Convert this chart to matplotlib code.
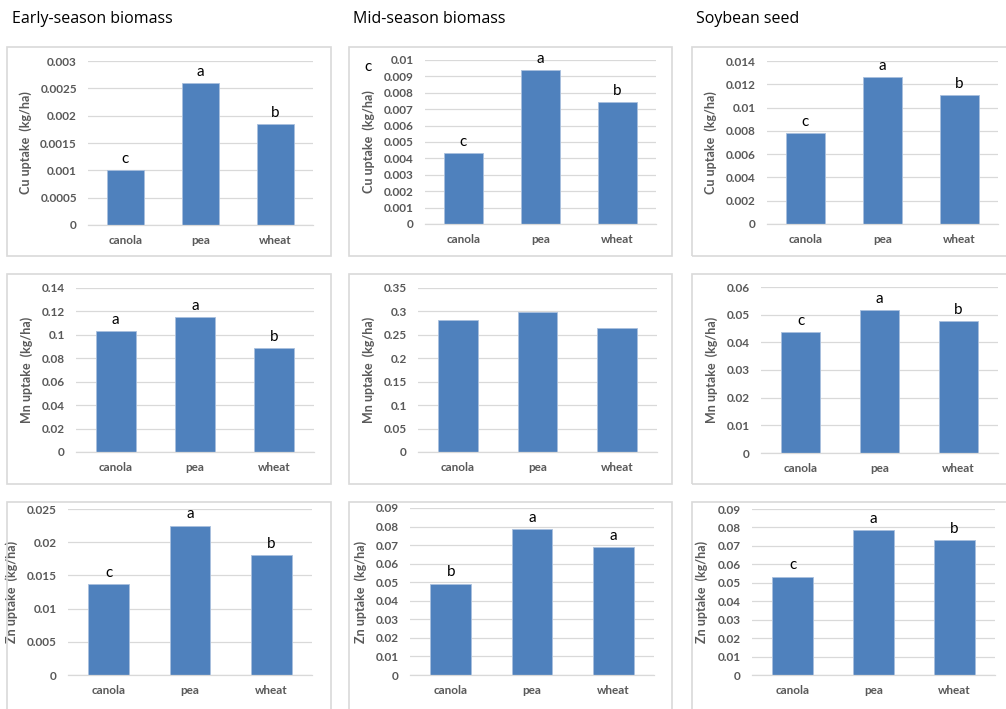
import numpy as np
import matplotlib
matplotlib.use('Agg')
import matplotlib.pyplot as plt
from matplotlib.patches import Rectangle

W, H = 1006, 709

crops = ['canola', 'pea', 'wheat']
stages = ['Early-season biomass', 'Mid-season biomass', 'Soybean seed']
nutrients = ['Cu', 'Mn', 'Zn']

# uptake (kg/ha) per crop, one list per nutrient x stage
cu_early = [0.00101, 0.00259, 0.00184]
cu_mid = [0.00431, 0.00937, 0.00742]
cu_seed = [0.00783, 0.01263, 0.01109]
mn_early = [0.1032, 0.1149, 0.0884]
mn_mid = [0.2808, 0.2987, 0.2637]
mn_seed = [0.0437, 0.0516, 0.0477]
zn_early = [0.01375, 0.02249, 0.01812]
zn_mid = [0.0493, 0.0785, 0.0688]
zn_seed = [0.0534, 0.0784, 0.0730]

# mean separation letters
cu_early_lt = ['c', 'a', 'b']
cu_mid_lt = ['c', 'a', 'b']
cu_seed_lt = ['c', 'a', 'b']
mn_early_lt = ['a', 'a', 'b']
mn_mid_lt = ['', '', '']
mn_seed_lt = ['c', 'a', 'b']
zn_early_lt = ['c', 'a', 'b']
zn_mid_lt = ['b', 'a', 'a']
zn_seed_lt = ['c', 'a', 'b']

# axis maximum and tick step for each panel
y_max = [[0.003, 0.01, 0.014], [0.14, 0.35, 0.06], [0.025, 0.09, 0.09]]
y_step = [[0.0005, 0.001, 0.002], [0.02, 0.05, 0.01], [0.005, 0.01, 0.01]]

valores = [[cu_early, cu_mid, cu_seed],
           [mn_early, mn_mid, mn_seed],
           [zn_early, zn_mid, zn_seed]]
letras = [[cu_early_lt, cu_mid_lt, cu_seed_lt],
          [mn_early_lt, mn_mid_lt, mn_seed_lt],
          [zn_early_lt, zn_mid_lt, zn_seed_lt]]

# plot areas in pixels: left, right, top, bottom
areas = [[(88, 313, 61, 225), (425, 656, 60, 224), (767, 998, 61, 224)],
         [(76, 314, 288, 452), (418, 657, 288, 452), (761, 998, 287, 453)],
         [(68, 312, 509, 675), (410, 654, 508, 675), (752, 995, 509, 675)]]
label_x = [[32, 375, 717], [33, 375, 718], [18, 367, 708]]

# chart frames in pixels: x0, x1 per column, y0, y1 per row
frame_x = [(7, 331), (349, 672), (692, 1012)]
frame_y = [(47, 256), (274, 484), (502, 715)]

BLUE = '#4f81bd'
GRID = '#d9d9d9'
GREY = '#595959'
TICK_FONT = 'Lato'


def fx(px):
    return px / W


def fy(py):
    return 1 - py / H


fig = plt.figure(figsize=(W / 100, H / 100), dpi=100)
fig.patch.set_facecolor('white')

for (x0, x1) in frame_x:
    for (y0, y1) in frame_y:
        fig.add_artist(Rectangle((fx(x0), fy(y1)), fx(x1 - x0), (y1 - y0) / H,
                                 transform=fig.transFigure, fill=False,
                                 ec=GRID, lw=1.2))

for j, (titulo, tx) in enumerate(zip(stages, [12, 353, 696])):
    fig.text(fx(tx), fy(19), titulo, fontsize=11.5, family='Open Sans',
             ha='left', va='center', color='black')

for i in range(3):
    for j in range(3):
        l, r, t, b = areas[i][j]
        ax = fig.add_axes([fx(l), fy(b), fx(r - l), (b - t) / H])
        x = np.arange(len(crops))
        barras = ax.bar(x, valores[i][j], width=0.5, color=BLUE,
                        edgecolor='#a9c0de', linewidth=0.6, zorder=3)
        for rect, lt in zip(barras, letras[i][j]):
            if lt:
                ax.annotate(lt, (rect.get_x() + rect.get_width() / 2, rect.get_height()),
                            xytext=(0, 3), textcoords='offset points',
                            ha='center', va='bottom', fontsize=11,
                            family='Lato', color='black')
        ax.set_xlim(-0.5, 2.5)
        ax.set_ylim(0, y_max[i][j])
        ticks = np.round(np.arange(0, y_max[i][j] + y_step[i][j] / 2, y_step[i][j]), 6)
        ax.set_yticks(ticks)
        ax.set_yticklabels(['{:g}'.format(v) for v in ticks])
        ax.set_xticks(x)
        ax.set_xticklabels(crops)
        ax.tick_params(length=0, labelsize=8.5, labelcolor=GREY)
        ax.tick_params(axis='y', pad=8)
        ax.tick_params(axis='x', pad=7)
        for lab in ax.get_xticklabels() + ax.get_yticklabels():
            lab.set_family(TICK_FONT)
            lab.set_fontweight('bold')
        ax.yaxis.grid(True, color=GRID, lw=0.9, zorder=0)
        ax.set_axisbelow(True)
        for s in ['top', 'right', 'left']:
            ax.spines[s].set_visible(False)
        ax.spines['bottom'].set_color(GRID)
        ax.spines['bottom'].set_linewidth(0.9)
        ax.spines['bottom'].set_zorder(4)
        ax.set_ylabel(f'{nutrients[i]} uptake  (kg/ha)', fontsize=9,
                      family=TICK_FONT, fontweight='bold', color=GREY)
        ax.yaxis.set_label_coords((label_x[i][j] - l) / (r - l), 0.5)
        ax.set_facecolor('none')

# stray letter in the mid-season Cu chart
fig.text(fx(368), fy(67), 'c', fontsize=11, family='Lato',
         ha='center', va='center', color='black')

fig.savefig('out.png', dpi=100, facecolor='white')
